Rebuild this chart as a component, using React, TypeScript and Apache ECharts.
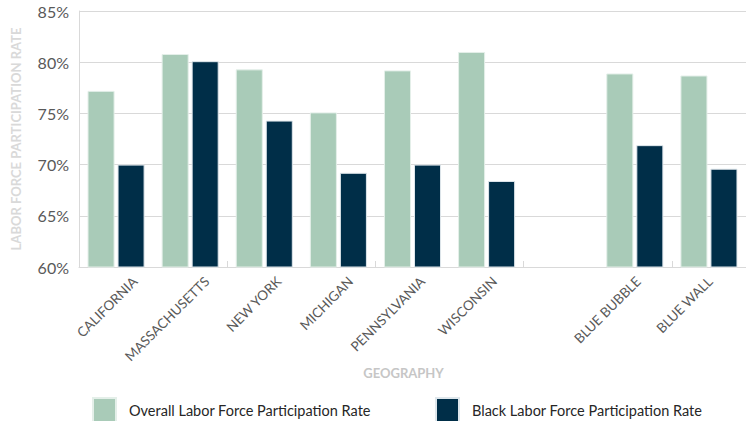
import React, { useEffect, useRef } from "react";
import * as echarts from "echarts";

const categories = [
  "CALIFORNIA",
  "MASSACHUSETTS",
  "NEW YORK",
  "MICHIGAN",
  "PENNSYLVANIA",
  "WISCONSIN",
  "",
  "BLUE BUBBLE",
  "BLUE WALL",
];
const overallRate = [77.2, 80.8, 79.3, 75.1, 79.2, 81.0, null, 78.9, 78.7];
const blackRate = [70.0, 80.1, 74.3, 69.2, 70.0, 68.4, null, 71.9, 69.6];
const seriesNames = [
  "Overall Labor Force Participation Rate",
  "Black Labor Force Participation Rate",
];
const yMin = 60;
const yMax = 85;
const yStep = 5;

const FONT = "Lato, 'DejaVu Sans', sans-serif";

export default function App() {
  const ref = useRef<HTMLDivElement>(null);
  useEffect(() => {
    if (!ref.current) return;
    const chart = echarts.init(ref.current, null, { renderer: "svg" });
    const legendCommon = {
      top: 397,
      padding: 0,
      itemWidth: 23,
      itemHeight: 24,
      icon: "rect",
      textStyle: { fontSize: 14.5, color: "#262626", fontFamily: FONT, padding: [0, 0, 0, 8] },
    };
    chart.setOption({
      animation: false,
      textStyle: { fontFamily: FONT },
      grid: [
        { left: 79, right: -2, top: 11, bottom: 154, containLabel: false },
        { left: 99, right: -22, top: 11, bottom: 154, containLabel: false },
      ],
      legend: [
        { ...legendCommon, data: [seriesNames[0]], left: 92 },
        { ...legendCommon, data: [seriesNames[1]], left: 435 },
      ],
      xAxis: [
        {
          type: "category",
          gridIndex: 0,
          data: categories,
          axisLine: { show: true, lineStyle: { color: "#d9d9d9", width: 1 } },
          axisTick: { show: true, inside: true, length: 6, lineStyle: { color: "#d9d9d9" } },
          axisLabel: { show: false },
          name: "GEOGRAPHY",
          nameLocation: "middle",
          nameGap: 99,
          nameTextStyle: {
            fontSize: 13,
            fontWeight: "bold",
            color: "#c6c6c6",
            fontFamily: FONT,
            padding: [0, 18, 0, 0],
          },
        },
        {
          type: "category",
          gridIndex: 1,
          data: categories,
          axisLine: { show: false },
          axisTick: { show: false },
          axisLabel: {
            show: true,
            interval: 0,
            rotate: 45,
            margin: 12,
            fontSize: 13.5,
            color: "#595959",
            fontFamily: FONT,
          },
        },
      ],
      yAxis: [
        {
          type: "value",
          gridIndex: 0,
          min: yMin,
          max: yMax,
          interval: yStep,
          axisLine: { show: true, lineStyle: { color: "#d9d9d9" } },
          axisTick: { show: false },
          splitLine: { show: true, lineStyle: { color: "#d9d9d9", width: 1 } },
          axisLabel: {
            formatter: "{value}%",
            fontSize: 16,
            color: "#595959",
            margin: 10,
            fontFamily: FONT,
          },
          name: "LABOR FORCE PARTICIPATION RATE",
          nameLocation: "middle",
          nameGap: 57,
          nameRotate: 90,
          nameTextStyle: {
            fontSize: 13,
            fontWeight: "bold",
            color: "#d9d9d9",
            fontFamily: FONT,
          },
        },
        {
          type: "value",
          gridIndex: 1,
          min: yMin,
          max: yMax,
          show: false,
        },
      ],
      series: [
        {
          name: seriesNames[0],
          type: "bar",
          xAxisIndex: 0,
          yAxisIndex: 0,
          data: overallRate,
          barCategoryGap: "23%",
          barGap: "11%",
          itemStyle: { color: "#a9cbb8", borderColor: "#e4efe9", borderWidth: 1 },
        },
        {
          name: seriesNames[1],
          type: "bar",
          xAxisIndex: 0,
          yAxisIndex: 0,
          data: blackRate,
          barCategoryGap: "23%",
          barGap: "11%",
          itemStyle: { color: "#002e48", borderColor: "#dfe7ec", borderWidth: 1 },
        },
      ],
    });
    return () => chart.dispose();
  }, []);
  return (
    <div
      ref={ref}
      style={{ position: "absolute", left: 0, top: 0, width: 746, height: 421, overflow: "hidden" }}
    />
  );
}
